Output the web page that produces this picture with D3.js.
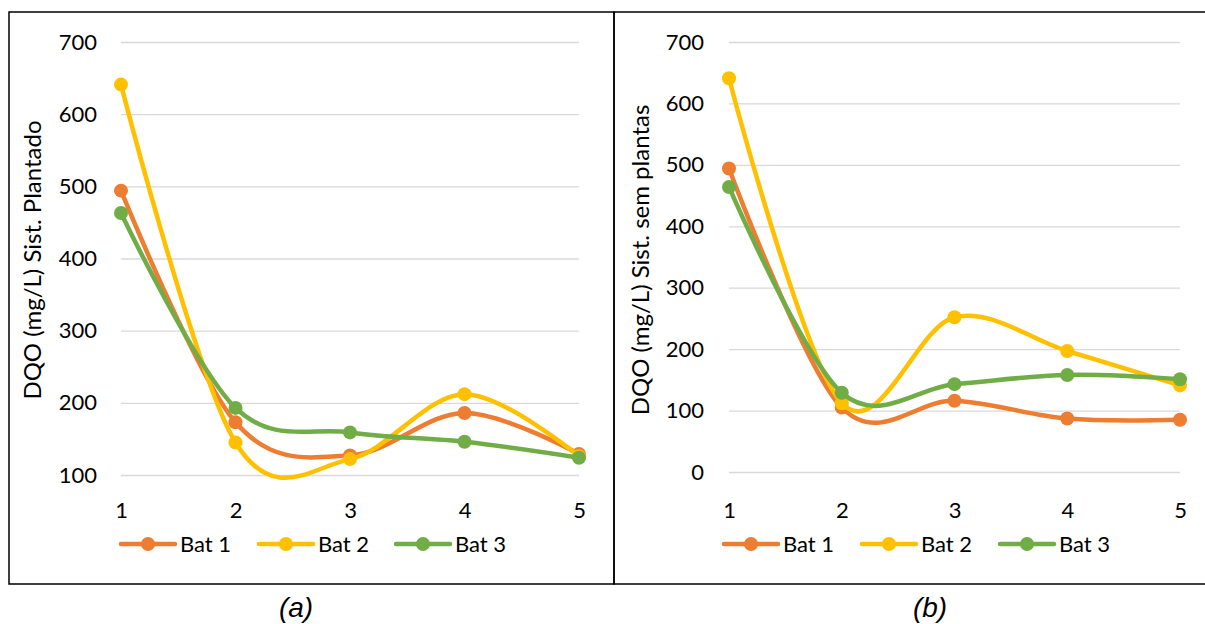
<!DOCTYPE html>
<meta charset="utf-8">
<script src="https://d3js.org/d3.v7.min.js"></script>
<style>
  body { margin: 0; background: #fff; }
</style>
<div id="my_dataviz"></div>
<script>

// data
var steps = [1, 2, 3, 4, 5];
var seriesNames = ["Bat 1", "Bat 2", "Bat 3"];
var colors = ["#ED7D31", "#FFC000", "#70AD47"];

// (a) planted system
var plantedBat1 = [494, 173, 127, 186, 129];
var plantedBat2 = [641, 145, 122, 212, 126];
var plantedBat3 = [463, 193, 159, 146, 124];
var plantedTicks = [100, 200, 300, 400, 500, 600, 700];

// (b) system without plants
var unplantedBat1 = [494, 105, 116, 87, 85];
var unplantedBat2 = [641, 112, 252, 197, 141];
var unplantedBat3 = [464, 129, 143, 158, 151];
var unplantedTicks = [0, 100, 200, 300, 400, 500, 600, 700];

var font = "Lato, 'Open Sans', sans-serif";

var svg = d3.select("#my_dataviz")
  .append("svg")
    .attr("width", 1205)
    .attr("height", 624);

// panel frames
svg.append("rect")
    .attr("x", 9).attr("y", 12)
    .attr("width", 605).attr("height", 572)
    .attr("fill", "none").attr("stroke", "#000").attr("stroke-width", 1.5);
svg.append("rect")
    .attr("x", 614).attr("y", 12)
    .attr("width", 620).attr("height", 572)
    .attr("fill", "none").attr("stroke", "#000").attr("stroke-width", 1.5);

function drawPanel(opt) {
  var x = d3.scalePoint()
      .domain(steps)
      .range([opt.x0, opt.x1]);
  var y = d3.scaleLinear()
      .domain(d3.extent(opt.ticks))
      .range([opt.yBottom, 42]);

  var g = svg.append("g");

  // gridlines
  g.append("g")
      .attr("transform", "translate(" + opt.x0 + ",0)")
      .call(d3.axisLeft(y).tickValues(opt.ticks).tickSize(-(opt.x1 - opt.x0)).tickFormat(""))
      .call(function(s) { s.select(".domain").remove(); })
      .selectAll("line").attr("stroke", "#D9D9D9").attr("stroke-width", 1.3);

  // y tick labels
  g.append("g")
      .attr("transform", "translate(" + opt.labelX + ",0)")
      .call(d3.axisLeft(y).tickValues(opt.ticks).tickSize(0).tickPadding(0))
      .call(function(s) { s.select(".domain").remove(); })
      .selectAll("text")
        .style("font-family", font)
        .style("font-size", "22px")
        .attr("fill", "#000");

  // x tick labels
  g.append("g")
      .attr("transform", "translate(0," + 510 + ")")
      .call(d3.axisBottom(x).tickSize(0).tickPadding(0))
      .call(function(s) { s.select(".domain").remove(); })
      .selectAll("text")
        .attr("dy", "0.35em")
        .style("font-family", font)
        .style("font-size", "22px")
        .attr("fill", "#000");

  // y title
  g.append("text")
      .attr("transform", "translate(" + opt.titleX + ",260) rotate(-90)")
      .attr("text-anchor", "middle")
      .attr("dy", "0.35em")
      .style("font-family", font)
      .style("font-size", "24px")
      .text(opt.title);

  var line = d3.line()
      .x(function(d, i) { return x(steps[i]); })
      .y(function(d) { return y(d); })
      .curve(d3.curveCatmullRom.alpha(0));

  opt.series.forEach(function(vals, k) {
    g.append("path")
        .datum(vals)
        .attr("d", line)
        .attr("fill", "none")
        .attr("stroke", colors[k])
        .attr("stroke-width", 4.5)
        .attr("stroke-linecap", "round");
    g.selectAll(".dot" + k)
        .data(vals)
        .enter()
        .append("circle")
          .attr("cx", function(d, i) { return x(steps[i]); })
          .attr("cy", function(d) { return y(d); })
          .attr("r", 7)
          .attr("fill", colors[k]);
  });

  // legend
  seriesNames.forEach(function(name, k) {
    var lx = opt.legendX[k];
    g.append("line")
        .attr("x1", lx).attr("x2", lx + 54)
        .attr("y1", 544).attr("y2", 544)
        .attr("stroke", colors[k]).attr("stroke-width", 4.5)
        .attr("stroke-linecap", "round");
    g.append("circle")
        .attr("cx", lx + 27).attr("cy", 544).attr("r", 7)
        .attr("fill", colors[k]);
    g.append("text")
        .attr("x", lx + 59).attr("y", 544)
        .attr("dy", "0.35em")
        .style("font-family", font)
        .style("font-size", "22px")
        .text(name);
  });

  // caption
  svg.append("text")
      .attr("x", opt.captionX).attr("y", 607)
      .attr("text-anchor", "middle")
      .attr("dy", "0.35em")
      .style("font-family", "'Liberation Sans', Arial, sans-serif")
      .style("font-style", "italic")
      .style("font-size", "28px")
      .text(opt.caption);
}

drawPanel({
  x0: 121, x1: 579, yBottom: 475, labelX: 97, titleX: 33,
  ticks: plantedTicks,
  title: "DQO (mg/L) Sist. Plantado",
  series: [plantedBat1, plantedBat2, plantedBat3],
  legendX: [121, 259, 396],
  captionX: 296, caption: "(a)"
});

drawPanel({
  x0: 729, x1: 1180, yBottom: 472, labelX: 704, titleX: 641,
  ticks: unplantedTicks,
  title: "DQO (mg/L) Sist. sem plantas",
  series: [unplantedBat1, unplantedBat2, unplantedBat3],
  legendX: [724, 862, 1000],
  captionX: 930, caption: "(b)"
});

</script>
